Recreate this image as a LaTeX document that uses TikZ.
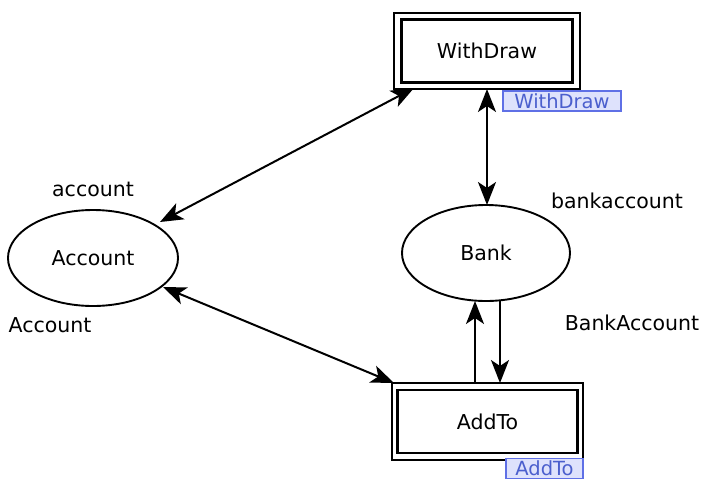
\documentclass[tikz,border=0pt]{standalone}
\usepackage{fontspec}
\setmainfont{DejaVu Sans}
\usetikzlibrary{arrows.meta,shapes.geometric}
\definecolor{lblfill}{RGB}{222,226,252}
\definecolor{lbldraw}{RGB}{95,112,230}
\definecolor{lbltext}{RGB}{75,95,205}
\begin{document}
\begin{tikzpicture}[x=1pt,y=-1pt,
  txt/.style={font=\fontsize{20.5}{24}\selectfont, inner sep=0pt},
  place/.style={draw, ellipse, line width=1.9pt, inner sep=0pt, font=\fontsize{20.5}{24}\selectfont},
  outerbox/.style={draw, line width=2.4pt, inner sep=0pt},
  innerbox/.style={draw, line width=2.4pt, inner sep=0pt, font=\fontsize{20.5}{24}\selectfont},
  tag/.style={draw=lbldraw, fill=lblfill, line width=1.2pt, text=lbltext, inner sep=0pt, font=\fontsize{19.5}{22}\selectfont},
  arr/.style={line width=2pt, -{Stealth[length=23pt,width=18pt,inset=6pt]}},
  biarr/.style={line width=2pt, {Stealth[length=23pt,width=18pt,inset=6pt]}-{Stealth[length=23pt,width=18pt,inset=6pt]}}
]
\useasboundingbox (0,0) rectangle (713,493);
% WithDraw transition
\node[outerbox, minimum width=186pt, minimum height=76pt] (wo) at (487,51) {};
\node[innerbox, minimum width=171pt, minimum height=63pt] (wi) at (487,51) {WithDraw};
\node[tag, minimum width=118pt, minimum height=20pt] (wt) at (562,101) {WithDraw};
% AddTo transition
\node[outerbox, minimum width=191pt, minimum height=77pt] (ao) at (487.5,421.5) {};
\node[innerbox, minimum width=180pt, minimum height=63pt] (ai) at (487.5,421.5) {AddTo};
\node[tag, minimum width=77pt, minimum height=20pt] (at) at (544.5,468.5) {AddTo};
% places
\node[place, minimum width=168pt, minimum height=96pt] (bank) at (486,253) {Bank};
\node[place, minimum width=170pt, minimum height=96pt] (acc) at (93,258) {Account};
% labels
\node[txt] (l1) at (93,189) {account};
\node[txt] (l2) at (50,325) {Account};
\node[txt] (l3) at (617,201) {bankaccount};
\node[txt] (l4) at (632,323) {BankAccount};
% arcs
\coordinate (wb) at (414,88);
\coordinate (ab) at (160,222);
\draw[biarr] (ab) -- (wb);
\coordinate (c1) at (163,287);
\coordinate (c2) at (394,383);
\draw[biarr] (c1) -- (c2);
\coordinate (w1) at (487,89);
\coordinate (b1) at (487,205);
\draw[biarr] (w1) -- (b1);
\coordinate (u1) at (475,383);
\coordinate (u2) at (475,301);
\draw[arr] (u1) -- (u2);
\coordinate (d1) at (500,301);
\coordinate (d2) at (500,383);
\draw[arr] (d1) -- (d2);
\end{tikzpicture}
\end{document}
